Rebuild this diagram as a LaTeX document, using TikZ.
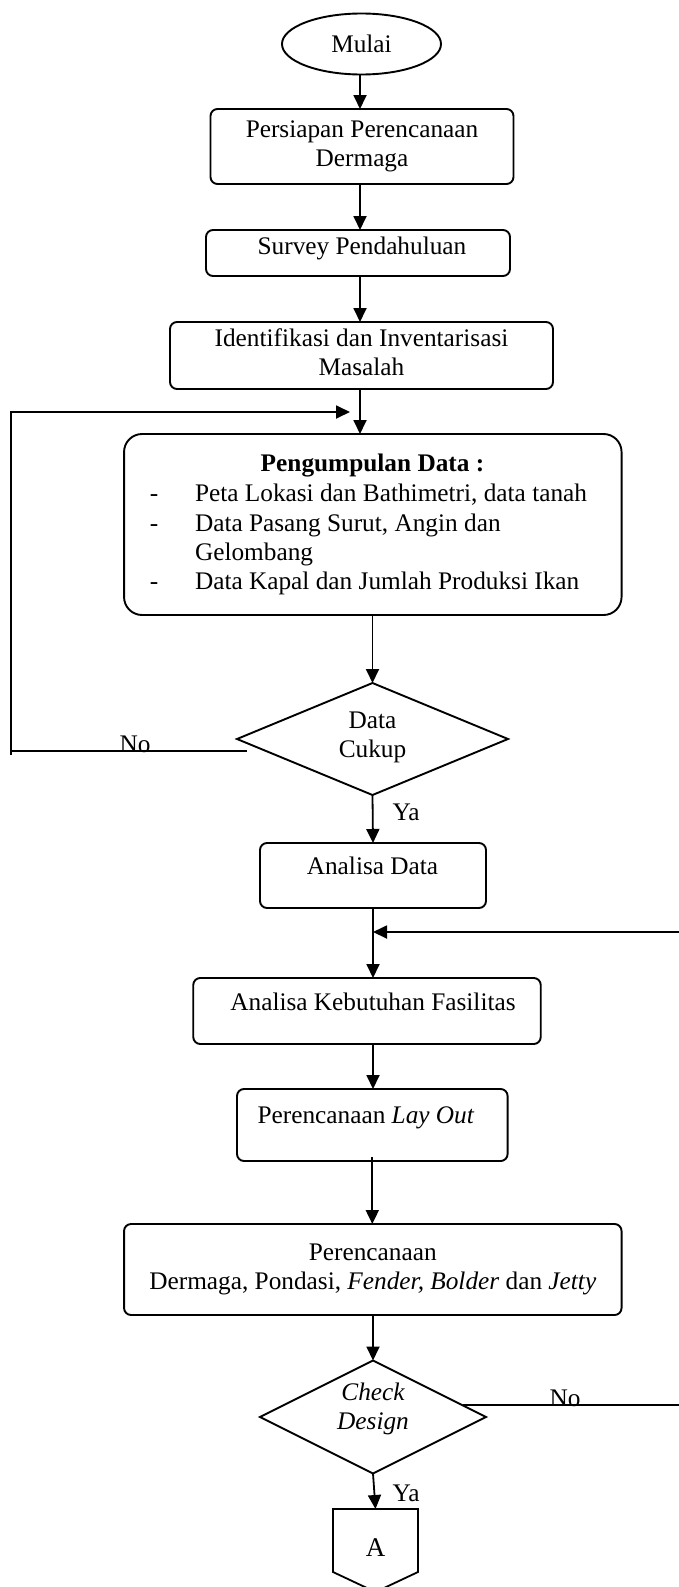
\documentclass[tikz,border=0pt]{standalone}
\usepackage{fontspec}
\setmainfont{Liberation Serif}
\usetikzlibrary{shapes.geometric,arrows.meta}
\newcommand\myfs{\fontsize{25.3}{29}\selectfont}
\begin{document}
\begin{tikzpicture}[x=1pt,y=-1pt,
  every node/.style={font=\myfs, inner sep=0pt, outer sep=0pt},
  box/.style={draw, line width=1.9pt, rounded corners=7pt},
  conn/.style={line width=1.8pt, line join=miter, -{Triangle[length=14pt,width=13pt]}},
  plain/.style={line width=1.8pt, line join=miter},
  dia/.style={diamond, draw, line width=1.9pt},
]
\useasboundingbox (0,0) rectangle (679,1587);

% start
\node[ellipse, draw, line width=1.9pt, minimum width=159pt, minimum height=61pt] (mulai) at (361.5,44) {Mulai};

% boxes
\node[box, minimum width=303pt, minimum height=75pt, align=center] (b1) at (362,146.5) {Persiapan Perencanaan\\Dermaga};
\node[box, minimum width=304pt, minimum height=46pt] (b2) at (358,253) {};
\node (t2) at (362,248) {Survey Pendahuluan};
\node[box, minimum width=383pt, minimum height=67pt] (b3) at (361.5,355.5) {};
\node[align=center] (t3) at (361.5,352) {Identifikasi dan Inventarisasi\\Masalah};

\node[box, rounded corners=18pt, minimum width=497.5pt, minimum height=181pt] (b4) at (372.8,524.5) {};
\node[font=\myfs\bfseries] (t4) at (372.5,466) {Pengumpulan Data :};
\node[anchor=base] (d4a) at (154,501) {-};
\node[anchor=base] (d4b) at (154,531) {-};
\node[anchor=base] (d4c) at (154,589) {-};
\node[anchor=base west] (l4a) at (195,501) {Peta Lokasi dan Bathimetri, data tanah};
\node[anchor=base west] (l4b) at (195,531) {Data Pasang Surut, Angin dan};
\node[anchor=base west] (l4c) at (195,560) {Gelombang};
\node[anchor=base west] (l4d) at (195,589) {Data Kapal dan Jumlah Produksi Ikan};

\node[dia, minimum width=271pt, minimum height=112pt] (d1) at (372.5,739) {};
\node[align=center] (dt1) at (372.5,737) {Data\\Cukup};

\node[box, minimum width=226pt, minimum height=65pt] (ad) at (373,875.5) {};
\node (tad) at (372.5,866) {Analisa Data};
\node[box, minimum width=347.5pt, minimum height=66pt] (ak) at (367,1011) {};
\node (tak) at (373,1002) {Analisa Kebutuhan Fasilitas};
\node[box, minimum width=270.6pt, minimum height=72pt] (lo) at (372.3,1125) {};
\node (tlo) at (366,1118) {Perencanaan \textit{Lay Out}};
\node[box, minimum width=497.5pt, minimum height=91pt, align=center] (b5) at (372.8,1269.5) {Perencanaan\\Dermaga, Pondasi, \textit{Fender, Bolder} dan \textit{Jetty}};

\node[dia, minimum width=226pt, minimum height=113pt] (d2) at (373,1417) {};
\node[align=center, font=\myfs\itshape] (dt2) at (373,1409) {Check\\Design};

% labels
\node[anchor=base] (no1) at (135,752) {No};
\node (ya1) at (406,812) {Ya};
\node[anchor=base] (no2) at (565,1406) {No};
\node (ya2) at (406,1493) {Ya};

% off-page connector
\draw[line width=1.8pt, line join=miter] (333,1509) -- (418,1509) -- (418,1572) -- (375.5,1592) -- (333,1572) -- cycle;
\node[font=\fontsize{27}{30}\selectfont] (A) at (375.5,1548) {A};
\coordinate (atop) at (375.5,1509);

% coordinates for loops
\coordinate (noL) at (11,751);
\coordinate (loopBot) at (11,755);
\coordinate (loopTop) at (11,412);
\coordinate (loopEnd) at (350,412);
\coordinate (rin) at (679,932);
\coordinate (rno) at (679,1405);
\coordinate (topx) at (360,0);

% connectors
\draw[conn] (mulai.south -| topx) -- (b1.north -| topx);
\draw[conn] (b1.south -| topx) -- (b2.north -| topx);
\draw[conn] (b2.south -| topx) -- (b3.north -| topx);
\draw[conn] (b3.south -| topx) -- (b4.north -| topx);
\draw[conn] (b4.south -| d1.north) -- (d1.north);
\draw[plain] ([shift={(10,12)}]d1.west) -- (noL);
\draw[conn] (loopBot) -- (loopTop) -- (loopEnd);
\draw[conn] (d1.south) -- (ad.north);
\draw[conn] (ad.south) -- (ad.south |- ak.north);
\draw[conn] (rin) -- (rin -| ad.south);
\draw[conn] (ad.south |- ak.south) -- (ad.south |- lo.north);
\draw[conn] ([yshift=4pt]lo.south) -- (lo.south |- b5.north);
\draw[conn] (b5.south -| d2.north) -- (d2.north);
\draw[plain] ([shift={(-23,-12)}]d2.east) -- (rno);
\draw[conn] (d2.south) -- (atop);
\end{tikzpicture}
\end{document}
